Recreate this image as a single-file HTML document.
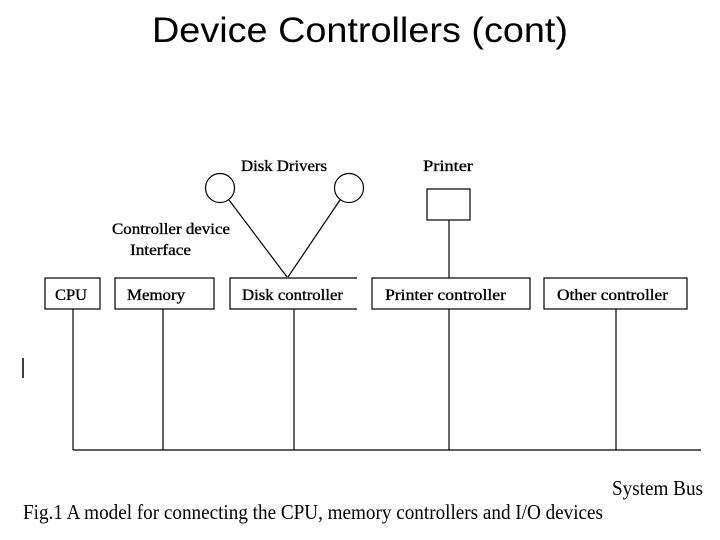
<!DOCTYPE html>
<html><head><style>
html,body{margin:0;padding:0;background:#fff;}
svg{display:block;}
</style></head><body>
<svg width="720" height="540" viewBox="0 0 720 540" xmlns="http://www.w3.org/2000/svg">
<rect width="720" height="540" fill="#fff"/>
<text x="152" y="42" font-family="Liberation Sans, sans-serif" font-size="35" textLength="416" lengthAdjust="spacingAndGlyphs" fill="#000">Device Controllers (cont)</text>
<g font-family="Liberation Serif, serif" font-size="16" fill="#000" stroke="#000" stroke-width="0.35" lengthAdjust="spacingAndGlyphs">
<text x="241" y="171" textLength="86" lengthAdjust="spacingAndGlyphs">Disk Drivers</text>
<text x="423" y="171" textLength="50" lengthAdjust="spacingAndGlyphs">Printer</text>
<text x="112" y="234" textLength="118" lengthAdjust="spacingAndGlyphs">Controller device</text>
<text x="130" y="255" textLength="61" lengthAdjust="spacingAndGlyphs">Interface</text>
<text x="55" y="300" textLength="32" lengthAdjust="spacingAndGlyphs">CPU</text>
<text x="127" y="300" textLength="58" lengthAdjust="spacingAndGlyphs">Memory</text>
<text x="242" y="300" textLength="101" lengthAdjust="spacingAndGlyphs">Disk controller</text>
<text x="385" y="300" textLength="121" lengthAdjust="spacingAndGlyphs">Printer controller</text>
<text x="557" y="300" textLength="111" lengthAdjust="spacingAndGlyphs">Other controller</text>
</g>
<g fill="none" stroke="#000" stroke-width="1.2">
<circle cx="220" cy="188" r="14.5"/>
<circle cx="349" cy="188" r="14.5"/>
<line x1="229" y1="200" x2="287" y2="277"/>
<line x1="340" y1="200" x2="288" y2="277"/>
<rect x="427" y="189" width="43" height="31"/>
<line x1="449" y1="220" x2="449" y2="278"/>
<rect x="45" y="278" width="55" height="31"/>
<rect x="115" y="278" width="99" height="31"/>
<polyline points="357,278 230,278 230,309 357,309"/>
<rect x="372" y="278" width="158" height="31"/>
<rect x="544" y="278" width="143" height="31"/>
<line x1="73" y1="309" x2="73" y2="450"/>
<line x1="163" y1="309" x2="163" y2="450"/>
<line x1="294" y1="309" x2="294" y2="450"/>
<line x1="449" y1="309" x2="449" y2="450"/>
<line x1="616" y1="309" x2="616" y2="450"/>
<line x1="73" y1="450" x2="701" y2="450"/>
</g>
<line x1="23" y1="358" x2="23" y2="378" stroke="#000" stroke-width="1.5"/>
<text x="612" y="495" font-family="Liberation Serif, serif" font-size="21" textLength="91" lengthAdjust="spacingAndGlyphs" fill="#000">System Bus</text>
<text x="23" y="519" font-family="Liberation Serif, serif" font-size="21" textLength="580" lengthAdjust="spacingAndGlyphs" fill="#000">Fig.1 A model for connecting the CPU, memory controllers and I/O devices</text>
</svg>
</body></html>
